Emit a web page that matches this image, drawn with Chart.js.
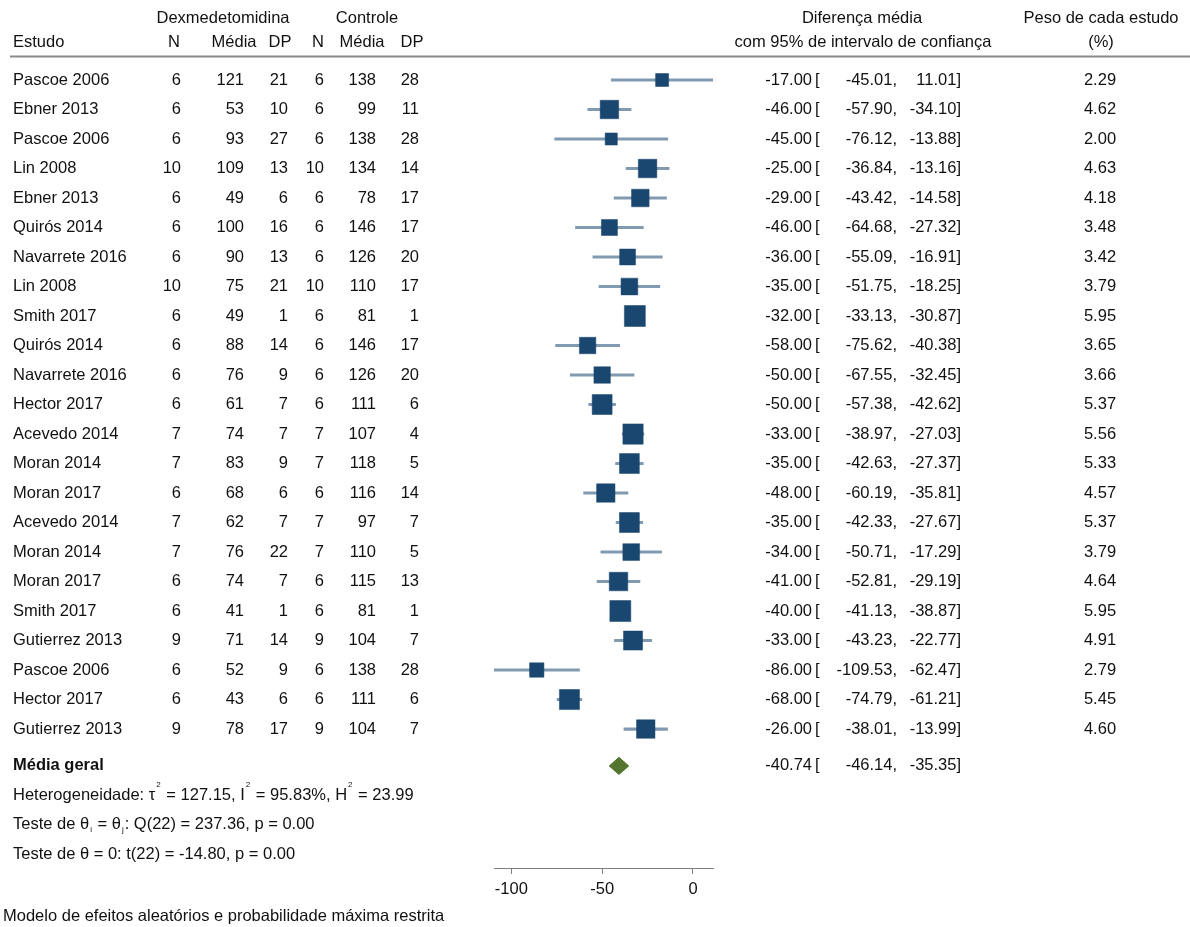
<!DOCTYPE html>
<html lang="pt">
<head>
<meta charset="utf-8">
<title>Diferença média – Dexmedetomidina vs Controle</title>
<script src="https://cdn.jsdelivr.net/npm/chart.js@4.4.1/dist/chart.umd.min.js"></script>
<style>
  html, body { margin: 0; padding: 0; background: #ffffff; }
  canvas { display: block; }
</style>
</head>
<body>
<canvas id="forest" width="1190" height="927"></canvas>
<script>
// ---- study data ----
const studies = ['Pascoe 2006', 'Ebner 2013', 'Pascoe 2006', 'Lin 2008', 'Ebner 2013', 'Quirós 2014',
  'Navarrete 2016', 'Lin 2008', 'Smith 2017', 'Quirós 2014', 'Navarrete 2016', 'Hector 2017',
  'Acevedo 2014', 'Moran 2014', 'Moran 2017', 'Acevedo 2014', 'Moran 2014', 'Moran 2017',
  'Smith 2017', 'Gutierrez 2013', 'Pascoe 2006', 'Hector 2017', 'Gutierrez 2013'];

const dexN    = [6, 6, 6, 10, 6, 6, 6, 10, 6, 6, 6, 6, 7, 7, 6, 7, 7, 6, 6, 9, 6, 6, 9];
const dexMean = [121, 53, 93, 109, 49, 100, 90, 75, 49, 88, 76, 61, 74, 83, 68, 62, 76, 74, 41, 71, 52, 43, 78];
const dexSD   = [21, 10, 27, 13, 6, 16, 13, 21, 1, 14, 9, 7, 7, 9, 6, 7, 22, 7, 1, 14, 9, 6, 17];

const ctrlN    = [6, 6, 6, 10, 6, 6, 6, 10, 6, 6, 6, 6, 7, 7, 6, 7, 7, 6, 6, 9, 6, 6, 9];
const ctrlMean = [138, 99, 138, 134, 78, 146, 126, 110, 81, 146, 126, 111, 107, 118, 116, 97, 110, 115, 81, 104, 138, 111, 104];
const ctrlSD   = [28, 11, 28, 14, 17, 17, 20, 17, 1, 17, 20, 6, 4, 5, 14, 7, 5, 13, 1, 7, 28, 6, 7];

const meanDiff = [-17.00, -46.00, -45.00, -25.00, -29.00, -46.00, -36.00, -35.00, -32.00, -58.00, -50.00, -50.00,
  -33.00, -35.00, -48.00, -35.00, -34.00, -41.00, -40.00, -33.00, -86.00, -68.00, -26.00];
const ciLow  = [-45.01, -57.90, -76.12, -36.84, -43.42, -64.68, -55.09, -51.75, -33.13, -75.62, -67.55, -57.38,
  -38.97, -42.63, -60.19, -42.33, -50.71, -52.81, -41.13, -43.23, -109.53, -74.79, -38.01];
const ciHigh = [11.01, -34.10, -13.88, -13.16, -14.58, -27.32, -16.91, -18.25, -30.87, -40.38, -32.45, -42.62,
  -27.03, -27.37, -35.81, -27.67, -17.29, -29.19, -38.87, -22.77, -62.47, -61.21, -13.99];
const weights = [2.29, 4.62, 2.00, 4.63, 4.18, 3.48, 3.42, 3.79, 5.95, 3.65, 3.66, 5.37,
  5.56, 5.33, 4.57, 5.37, 3.79, 4.64, 5.95, 4.91, 2.79, 5.45, 4.60];

// pooled estimate (random effects, REML)
const overallDiff = [-40.74];
const overallCI = [-46.14, -35.35];

// x-axis ticks and range (range spans the widest confidence interval)
const xTicks = [-100, -50, 0];
const xRange = [-109.53, 11.01];

// ---- styling ----
const FONT = '"Liberation Sans", Arial, Helvetica, sans-serif';
const FS = 16.5;
const NAVY = '#1a476f';
const CI_COLOR = 'rgba(26, 71, 111, 0.55)';
const GREEN = '#55752f';

const rowOf = i => i + 1;                 // study rows on the y scale
const overallRow = studies.length + 1.25; // pooled row
const statRows = [overallRow + 1, overallRow + 2, overallRow + 3];
const diamondHalf = 0.29;                 // diamond half-height in row units
const squareScale = 8.6;                  // square side = scale * sqrt(weight)

const f2 = v => v.toFixed(2);

// Draws the table columns, header and footnotes next to the plot.
const tablePlugin = {
  id: 'forestTable',
  afterDraw(chart) {
    const ctx = chart.ctx;
    const ys = chart.scales.y;
    ctx.save();
    ctx.fillStyle = '#111';
    ctx.textBaseline = 'middle';
    const put = (s, x, y, align = 'left', weight = 'normal', size = FS) => {
      ctx.font = `${weight} ${size}px ${FONT}`;
      ctx.textAlign = align;
      ctx.fillText(s, x, y);
    };
    // rich text with small raised / lowered pieces
    const rich = (parts, x, y) => {
      let cx = x;
      ctx.textAlign = 'left';
      for (const p of parts) {
        if (p.sup || p.sub) {
          ctx.font = `normal 8px ${FONT}`;
          ctx.fillText(p.t, cx + 1, y + (p.sup ? -11 : 5));
          cx += ctx.measureText(p.t).width + 2;
        } else {
          ctx.font = `normal ${FS}px ${FONT}`;
          ctx.fillText(p.t, cx, y);
          cx += ctx.measureText(p.t).width;
        }
      }
    };

    // header
    const h1 = 18, h2 = 42;
    put('Dexmedetomidina', 223, h1, 'center');
    put('Controle', 367, h1, 'center');
    put('Diferença média', 862, h1, 'center');
    put('Peso de cada estudo', 1101, h1, 'center');
    put('Estudo', 13, h2);
    put('N', 174, h2, 'center');
    put('Média', 234, h2, 'center');
    put('DP', 280, h2, 'center');
    put('N', 318, h2, 'center');
    put('Média', 362, h2, 'center');
    put('DP', 412, h2, 'center');
    put('com 95% de intervalo de confiança', 863, h2, 'center');
    put('(%)', 1101, h2, 'center');

    ctx.strokeStyle = '#8a8a8a';
    ctx.lineWidth = 2;
    ctx.beginPath();
    ctx.moveTo(10, 56.5);
    ctx.lineTo(1190, 56.5);
    ctx.stroke();

    const ciText = (est, lo, hi, y) => {
      put(f2(est), 812, y, 'right');
      put('[', 815, y, 'left');
      put(f2(lo) + ',', 897, y, 'right');
      put(f2(hi) + ']', 961, y, 'right');
    };

    // study rows
    studies.forEach((name, i) => {
      const y = ys.getPixelForValue(rowOf(i));
      put(name, 13, y);
      put(String(dexN[i]), 181, y, 'right');
      put(String(dexMean[i]), 244, y, 'right');
      put(String(dexSD[i]), 288, y, 'right');
      put(String(ctrlN[i]), 324, y, 'right');
      put(String(ctrlMean[i]), 376, y, 'right');
      put(String(ctrlSD[i]), 419, y, 'right');
      ciText(meanDiff[i], ciLow[i], ciHigh[i], y);
      put(f2(weights[i]), 1100, y, 'center');
    });

    // pooled row and statistics
    const yo = ys.getPixelForValue(overallRow);
    put('Média geral', 13, yo, 'left', 'bold');
    ciText(overallDiff[0], overallCI[0], overallCI[1], yo);

    rich([{t: 'Heterogeneidade: τ'}, {t: '2', sup: true}, {t: ' = 127.15, I'}, {t: '2', sup: true},
          {t: ' = 95.83%, H'}, {t: '2', sup: true}, {t: ' = 23.99'}], 13, ys.getPixelForValue(statRows[0]));
    rich([{t: 'Teste de θ'}, {t: 'i', sub: true}, {t: ' = θ'}, {t: 'j', sub: true},
          {t: ': Q(22) = 237.36, p = 0.00'}], 13, ys.getPixelForValue(statRows[1]));
    rich([{t: 'Teste de θ = 0: t(22) = -14.80, p = 0.00'}], 13, ys.getPixelForValue(statRows[2]));

    put('Modelo de efeitos aleatórios e probabilidade máxima restrita', 3, 916);
    ctx.restore();
  }
};

const ov = overallRow;
const diamondTop = [
  {x: overallCI[0], y: ov}, {x: overallDiff[0], y: ov - diamondHalf}, {x: overallCI[1], y: ov}
];
const diamondBottom = [
  {x: overallCI[0], y: ov}, {x: overallDiff[0], y: ov + diamondHalf}, {x: overallCI[1], y: ov}
];

new Chart(document.getElementById('forest'), {
  type: 'scatter',
  data: {
    datasets: [
      {
        label: 'Diferença média',
        order: 0,
        data: studies.map((_, i) => ({x: meanDiff[i], y: rowOf(i)})),
        pointStyle: 'rect',
        pointRadius: weights.map(w => squareScale * Math.sqrt(w) / Math.SQRT2),
        pointHoverRadius: weights.map(w => squareScale * Math.sqrt(w) / Math.SQRT2),
        pointBackgroundColor: NAVY,
        pointBorderColor: NAVY,
        pointBorderWidth: 0.5
      },
      {
        type: 'bar',
        label: 'IC 95%',
        order: 1,
        indexAxis: 'y',
        data: studies.map((_, i) => ({x: [ciLow[i], ciHigh[i]], y: rowOf(i)})),
        backgroundColor: CI_COLOR,
        borderWidth: 0,
        barThickness: 2.5
      },
      {
        type: 'line',
        label: 'Média geral',
        order: 2,
        data: diamondTop,
        borderColor: GREEN,
        backgroundColor: GREEN,
        borderWidth: 1,
        pointRadius: 0,
        tension: 0,
        fill: {value: ov}
      },
      {
        type: 'line',
        label: 'Média geral (inferior)',
        order: 2,
        data: diamondBottom,
        borderColor: GREEN,
        backgroundColor: GREEN,
        borderWidth: 1,
        pointRadius: 0,
        tension: 0,
        fill: {value: ov}
      }
    ]
  },
  options: {
    responsive: false,
    animation: false,
    devicePixelRatio: 1,
    events: [],
    layout: { padding: { left: 494, right: 477, top: 50.5, bottom: 19 } },
    plugins: { legend: { display: false }, tooltip: { enabled: false } },
    scales: {
      x: {
        type: 'linear',
        position: 'bottom',
        offset: false,
        min: xRange[0],
        max: xRange[1],
        afterBuildTicks: s => { s.ticks = xTicks.map(v => ({value: v})); },
        afterFit: s => { s.height = 40; },
        grid: { display: true, offset: false, drawOnChartArea: false, drawTicks: true, tickLength: 6, color: '#7f7f7f', lineWidth: 1 },
        border: { display: true, color: '#7f7f7f', width: 1 },
        ticks: { color: '#111', padding: 6, font: { family: FONT, size: FS } }
      },
      y: {
        type: 'linear',
        display: false,
        offset: false,
        grid: { offset: false },
        reverse: true,
        min: 0,
        max: 27.71
      }
    }
  },
  plugins: [tablePlugin]
});
</script>
</body>
</html>
